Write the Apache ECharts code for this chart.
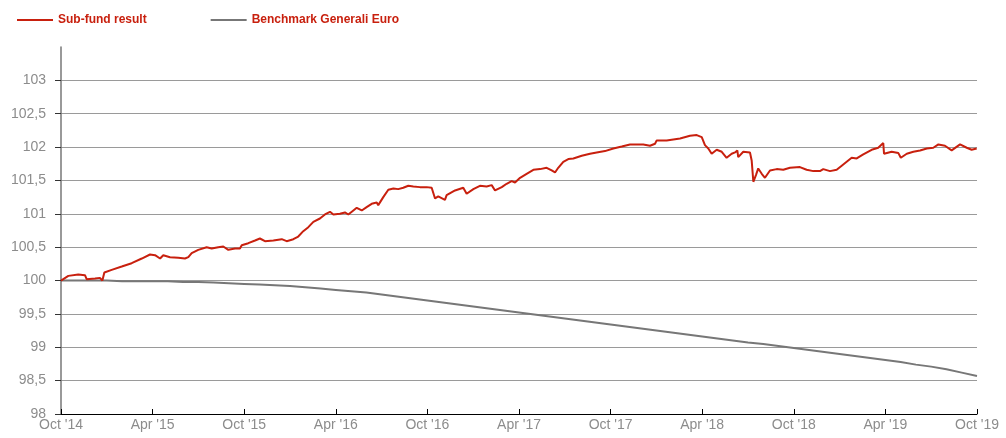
<!DOCTYPE html>
<html>
<head>
<meta charset="utf-8">
<script src="https://cdn.jsdelivr.net/npm/echarts@6/dist/echarts.min.js"></script>
<style>
  html, body { margin: 0; padding: 0; background: #fff; }
  #chart { width: 1006px; height: 438px; }
</style>
</head>
<body>
<div id="chart"></div>
<script>
// months since Oct '14
var xTickLabels = ["Oct '14", "Apr '15", "Oct '15", "Apr '16", "Oct '16", "Apr '17",
                   "Oct '17", "Apr '18", "Oct '18", "Apr '19", "Oct '19"];
var yTicks = [98, 98.5, 99, 99.5, 100, 100.5, 101, 101.5, 102, 102.5, 103];

var fundMonths = [0, 0.05, 0.48, 1.13, 1.57, 1.68, 2.23, 2.55, 2.71, 2.84, 3.32, 3.98, 4.63, 5.29, 5.83,
    6.16, 6.49, 6.70, 7.14, 7.68, 8.12, 8.34, 8.56, 8.99, 9.54, 9.87, 10.30, 10.63, 10.96, 11.40,
    11.72, 11.84, 12.27, 12.71, 13.03, 13.36, 13.91, 14.46, 14.78, 15.22, 15.54, 15.87, 16.20, 16.53,
    16.96, 17.29, 17.62, 17.84, 18.27, 18.60, 18.82, 19.15, 19.37, 19.70, 20.02, 20.35, 20.68, 20.78,
    21.11, 21.44, 21.77, 22.09, 22.42, 22.75, 23.08, 23.51, 23.95, 24.28, 24.50, 24.71, 25.15, 25.26,
    25.81, 26.35, 26.57, 27.01, 27.44, 27.88, 28.21, 28.43, 28.87, 29.19, 29.52, 29.74, 30.07, 30.50,
    30.94, 31.38, 31.81, 32.14, 32.36, 32.57, 32.90, 33.23, 33.56, 34.11, 34.65, 35.09, 35.63, 36.18,
    36.73, 37.27, 37.71, 38.14, 38.58, 38.91, 39.02, 39.67, 40.55, 41.20, 41.64, 41.97, 42.18, 42.40,
    42.62, 42.95, 43.28, 43.60, 43.93, 44.15, 44.30, 44.36, 44.69, 45.13, 45.24, 45.35, 45.52, 45.67,
    45.90, 46.11, 46.44, 46.88, 47.31, 47.75, 48.40, 48.84, 49.28, 49.71, 49.93, 50.37, 50.81, 51.24,
    51.79, 52.12, 52.55, 53.10, 53.53, 53.86, 53.91, 54.41, 54.85, 55.01, 55.40, 55.83, 56.27, 56.71,
    57.14, 57.47, 57.90, 58.34, 58.89, 59.33, 59.65, 59.98];
var fundValues = [100.00, 100.02, 100.07, 100.09, 100.08, 100.02, 100.03, 100.04, 100.00, 100.12, 100.16, 100.21, 100.26, 100.33, 100.39,
    100.38, 100.33, 100.38, 100.35, 100.34, 100.33, 100.35, 100.41, 100.46, 100.50, 100.48, 100.50, 100.51, 100.46, 100.48,
    100.48, 100.53, 100.56, 100.60, 100.63, 100.59, 100.60, 100.62, 100.59, 100.62, 100.66, 100.74, 100.80, 100.88,
    100.93, 100.99, 101.03, 100.99, 101.00, 101.02, 100.99, 101.05, 101.09, 101.05, 101.10, 101.15, 101.17, 101.13,
    101.25, 101.36, 101.38, 101.37, 101.39, 101.42, 101.41, 101.40, 101.40, 101.39, 101.23, 101.26, 101.21, 101.28,
    101.35, 101.39, 101.30, 101.37, 101.42, 101.41, 101.43, 101.35, 101.40, 101.45, 101.49, 101.47, 101.54, 101.60,
    101.66, 101.67, 101.69, 101.65, 101.62, 101.69, 101.78, 101.82, 101.83, 101.87, 101.90, 101.92, 101.94, 101.98,
    102.01, 102.04, 102.04, 102.04, 102.02, 102.05, 102.10, 102.10, 102.13, 102.17, 102.18, 102.15, 102.03, 101.98,
    101.90, 101.96, 101.93, 101.84, 101.90, 101.92, 101.95, 101.85, 101.93, 101.92, 101.80, 101.48, 101.58, 101.68,
    101.60, 101.54, 101.65, 101.67, 101.66, 101.69, 101.70, 101.66, 101.64, 101.64, 101.67, 101.64, 101.66, 101.74,
    101.84, 101.83, 101.89, 101.96, 101.99, 102.06, 101.90, 101.93, 101.91, 101.84, 101.90, 101.93, 101.95, 101.98,
    101.99, 102.04, 102.02, 101.95, 102.04, 101.99, 101.96, 101.98];

var benchMonths = [0, 1, 2, 3, 4, 5, 6, 7, 8, 9, 10, 11, 12, 13, 14, 15, 16, 17, 18, 19, 20,
    21, 22, 23, 24, 25, 26, 27, 28, 29, 30, 31, 32, 33, 34, 35, 36, 37, 38, 39, 40,
    41, 42, 43, 44, 45, 46, 47, 48, 49, 50, 51, 52, 53, 54, 55, 56, 57, 58, 59, 60];
var benchValues = [100.00, 100.00, 100.00, 100.00, 99.99, 99.99, 99.99, 99.99, 99.98, 99.98, 99.97,
    99.96, 99.95, 99.94, 99.93, 99.92, 99.90, 99.88, 99.86, 99.84, 99.82,
    99.79, 99.76, 99.73, 99.70, 99.67, 99.64, 99.61, 99.58, 99.55, 99.52,
    99.49, 99.46, 99.43, 99.40, 99.37, 99.34, 99.31, 99.28, 99.25, 99.22,
    99.19, 99.16, 99.13, 99.10, 99.07, 99.05, 99.02, 98.99, 98.96, 98.93,
    98.90, 98.87, 98.84, 98.81, 98.78, 98.74, 98.71, 98.67, 98.62, 98.57];

function zip(xs, ys) {
    var out = [];
    for (var i = 0; i < xs.length && i < ys.length; i++) out.push([xs[i], ys[i]]);
    return out;
}

var labelFont = 'Liberation Sans';
var myChart = echarts.init(document.getElementById('chart'));
var option = {
    backgroundColor: '#fff',
    animation: false,
    legend: {
        left: 12,
        top: 9,
        icon: 'rect',
        itemWidth: 36,
        itemHeight: 2,
        itemGap: 64,
        textStyle: {
            color: '#c8200e',
            fontFamily: 'Liberation Sans',
            fontWeight: 'bold',
            fontSize: 12
        },
        data: ['Sub-fund result', 'Benchmark Generali Euro']
    },
    grid: {left: 61, right: 29, top: 47, bottom: 24},
    xAxis: {
        type: 'value',
        min: 0,
        max: 60,
        interval: 6,
        axisLine: {show: true, lineStyle: {color: '#000', width: 1}},
        axisTick: {show: true, inside: true, length: 5, lineStyle: {color: '#000'}},
        splitLine: {show: false},
        axisLabel: {
            color: '#8c8c8c',
            fontFamily: labelFont,
            fontSize: 14,
            margin: 4,
            formatter: function (v) { return xTickLabels[Math.round(v / 6)]; }
        }
    },
    yAxis: {
        type: 'value',
        min: 98,
        max: 103.5,
        interval: 0.5,
        axisLine: {show: true, lineStyle: {color: '#777', width: 1.5}},
        axisTick: {show: true, length: 6, lineStyle: {color: '#333'}, customValues: yTicks},
        splitLine: {show: true, lineStyle: {color: '#9a9a9a', width: 1}},
        axisLabel: {
            color: '#8c8c8c',
            fontFamily: labelFont,
            fontSize: 14,
            margin: 15,
            customValues: yTicks,
            formatter: function (v) { return String(v).replace('.', ','); }
        }
    },
    series: [
        {
            name: 'Sub-fund result',
            type: 'line',
            showSymbol: false,
            color: '#c8200e',
            lineStyle: {width: 2, color: '#c8200e'},
            data: zip(fundMonths, fundValues),
            z: 3
        },
        {
            name: 'Benchmark Generali Euro',
            type: 'line',
            showSymbol: false,
            color: '#777',
            lineStyle: {width: 2, color: '#777'},
            data: zip(benchMonths, benchValues),
            z: 2
        }
    ]
};
myChart.setOption(option);
</script>
</body>
</html>
